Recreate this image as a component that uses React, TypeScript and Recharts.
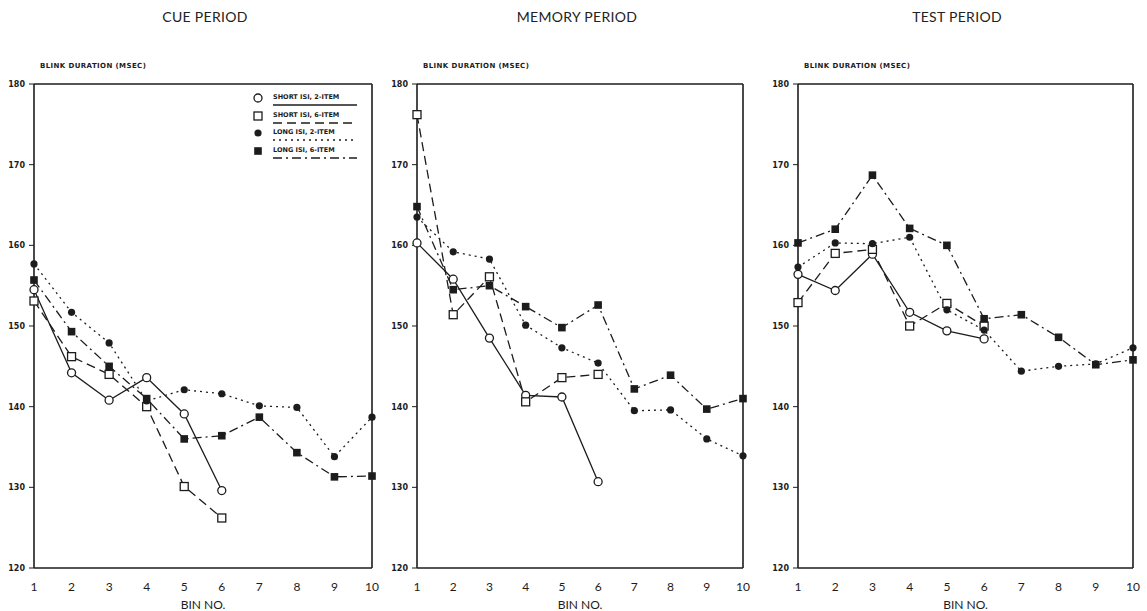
import React from "react"
import { LineChart, Line, XAxis, YAxis, ReferenceLine } from "recharts"

const bins = [1, 2, 3, 4, 5, 6, 7, 8, 9, 10]
const yTicks = [120, 130, 140, 150, 160, 170, 180]

// blink duration (msec) per bin
const cueShort2 = [154.5, 144.2, 140.8, 143.6, 139.1, 129.6]
const cueShort6 = [153.1, 146.2, 144.0, 140.0, 130.1, 126.2]
const cueLong2 = [157.7, 151.7, 147.9, 140.7, 142.1, 141.6, 140.1, 139.9, 133.8, 138.7]
const cueLong6 = [155.7, 149.3, 145.0, 141.0, 136.0, 136.4, 138.7, 134.3, 131.3, 131.4]

const memShort2 = [160.3, 155.8, 148.5, 141.4, 141.2, 130.7]
const memShort6 = [176.2, 151.4, 156.1, 140.6, 143.6, 144.0]
const memLong2 = [163.5, 159.2, 158.3, 150.1, 147.3, 145.4, 139.5, 139.6, 136.0, 133.9]
const memLong6 = [164.8, 154.5, 155.0, 152.4, 149.8, 152.6, 142.2, 143.9, 139.7, 141.0]

const testShort2 = [156.4, 154.4, 158.9, 151.7, 149.4, 148.4]
const testShort6 = [152.9, 159.0, 159.5, 150.0, 152.8, 150.0]
const testLong2 = [157.3, 160.3, 160.2, 161.0, 152.0, 149.5, 144.4, 145.0, 145.3, 147.3]
const testLong6 = [160.3, 162.0, 168.7, 162.1, 160.0, 150.9, 151.4, 148.6, 145.2, 145.8]

const legendLabels = ["SHORT ISI, 2-ITEM", "SHORT ISI, 6-ITEM", "LONG ISI, 2-ITEM", "LONG ISI, 6-ITEM"]

const INK = "#1c1c1c"

const buildRows = (s2: number[], s6: number[], l2: number[], l6: number[]) =>
  bins.map((bin, i) => ({
    bin,
    s2: s2[i] ?? null,
    s6: s6[i] ?? null,
    l2: l2[i] ?? null,
    l6: l6[i] ?? null,
  }))

const series = [
  { key: "s2", dash: undefined, marker: "openCircle" },
  { key: "s6", dash: "9 5", marker: "openSquare" },
  { key: "l2", dash: "2 4", marker: "dotCircle" },
  { key: "l6", dash: "9 4 2 4", marker: "dotSquare" },
]

function Marker({ type, cx, cy }: { type: string; cx: number; cy: number }) {
  if (type === "openCircle") return <circle cx={cx} cy={cy} r={4} fill="#fff" stroke={INK} strokeWidth={1.3} />
  if (type === "openSquare")
    return <rect x={cx - 4} y={cy - 4} width={8} height={8} fill="#fff" stroke={INK} strokeWidth={1.3} />
  if (type === "dotCircle") return <circle cx={cx} cy={cy} r={3.6} fill={INK} />
  return <rect x={cx - 3.8} y={cy - 3.8} width={7.6} height={7.6} fill={INK} />
}

const makeDot = (type: string) => (props: any) => {
  const { cx, cy, index, value } = props
  if (value == null || cx == null || cy == null) return <g key={`n-${index}`} />
  return (
    <g key={`d-${index}`}>
      <Marker type={type} cx={cx} cy={cy} />
    </g>
  )
}

const yTickStyle = { fontFamily: "DejaVu Sans", fontSize: 8, fontWeight: 700, fill: INK }
const xTickStyle = { fontFamily: "Lato", fontSize: 12, fill: INK }

function Panel({
  left,
  width,
  marginLeft,
  marginRight,
  title,
  titleX,
  data,
}: {
  left: number
  width: number
  marginLeft: number
  marginRight: number
  title: string
  titleX: number
  data: any[]
}) {
  return (
    <div style={{ position: "absolute", left, top: 0, width, height: 611 }}>
      <div
        style={{
          position: "absolute",
          left: titleX - left - 100,
          width: 200,
          top: 8,
          textAlign: "center",
          fontFamily: "Lato",
          fontSize: 14,
          color: "#222",
          letterSpacing: 0.3,
        }}
      >
        {title}
      </div>
      <div
        style={{
          position: "absolute",
          left: marginLeft + 36,
          top: 62,
          fontFamily: "DejaVu Sans",
          fontSize: 7,
          fontWeight: 700,
          color: INK,
          letterSpacing: 0.4,
          whiteSpace: "nowrap",
        }}
      >
        BLINK DURATION (MSEC)
      </div>
      <LineChart
        width={width}
        height={611}
        data={data}
        margin={{ top: 84, right: marginRight, left: marginLeft, bottom: 0 }}
      >
        <XAxis
          dataKey="bin"
          type="number"
          domain={[1, 10]}
          ticks={bins}
          allowDecimals={false}
          tickLine={false}
          tickMargin={8}
          height={43}
          axisLine={{ stroke: INK, strokeWidth: 1.6 }}
          tick={xTickStyle}
          label={{ value: "BIN NO.", position: "insideBottom", offset: 2, style: { ...xTickStyle, fontSize: 12 } }}
        />
        <YAxis
          type="number"
          domain={[120, 180]}
          ticks={yTicks}
          width={30}
          tickSize={5}
          tickMargin={4}
          axisLine={{ stroke: INK, strokeWidth: 1.6 }}
          tickLine={{ stroke: INK }}
          tick={yTickStyle}
        />
        <ReferenceLine y={180} stroke={INK} strokeWidth={1.6} />
        <ReferenceLine x={10} stroke={INK} strokeWidth={1.6} />
        {series.map((s) => (
          <Line
            key={s.key}
            dataKey={s.key}
            type="linear"
            stroke={INK}
            strokeWidth={1.3}
            strokeDasharray={s.dash}
            dot={makeDot(s.marker)}
            activeDot={false}
            isAnimationActive={false}
          />
        ))}
      </LineChart>
    </div>
  )
}

function LegendBox() {
  return (
    <div style={{ position: "absolute", left: 250, top: 91 }}>
      {series.map((s, i) => (
        <div key={s.key} style={{ position: "absolute", top: i * 17.5, left: 0, width: 110, height: 16 }}>
          <svg width={16} height={14} style={{ position: "absolute", left: 0, top: 0 }}>
            <Marker type={s.marker} cx={8} cy={7} />
          </svg>
          <div
            style={{
              position: "absolute",
              left: 23,
              top: 2,
              fontFamily: "DejaVu Sans",
              fontSize: 6.5,
              fontWeight: 700,
              color: INK,
              whiteSpace: "nowrap",
            }}
          >
            {legendLabels[i]}
          </div>
          <svg width={86} height={4} style={{ position: "absolute", left: 23, top: 12 }}>
            <line x1={0} y1={2} x2={84} y2={2} stroke={INK} strokeWidth={1.3} strokeDasharray={s.dash} />
          </svg>
        </div>
      ))}
    </div>
  )
}

export default function App() {
  const cue = buildRows(cueShort2, cueShort6, cueLong2, cueLong6)
  const mem = buildRows(memShort2, memShort6, memLong2, memLong6)
  const test = buildRows(testShort2, testShort6, testLong2, testLong6)

  return (
    <div style={{ position: "absolute", left: 0, top: 0, width: 1147, height: 611, background: "#fff" }}>
      <Panel left={0} width={380} marginLeft={4} marginRight={8} title="CUE PERIOD" titleX={205} data={cue} />
      <Panel left={377} width={375} marginLeft={10} marginRight={9} title="MEMORY PERIOD" titleX={577} data={mem} />
      <Panel left={760} width={387} marginLeft={8} marginRight={14} title="TEST PERIOD" titleX={957} data={test} />
      <LegendBox />
    </div>
  )
}
